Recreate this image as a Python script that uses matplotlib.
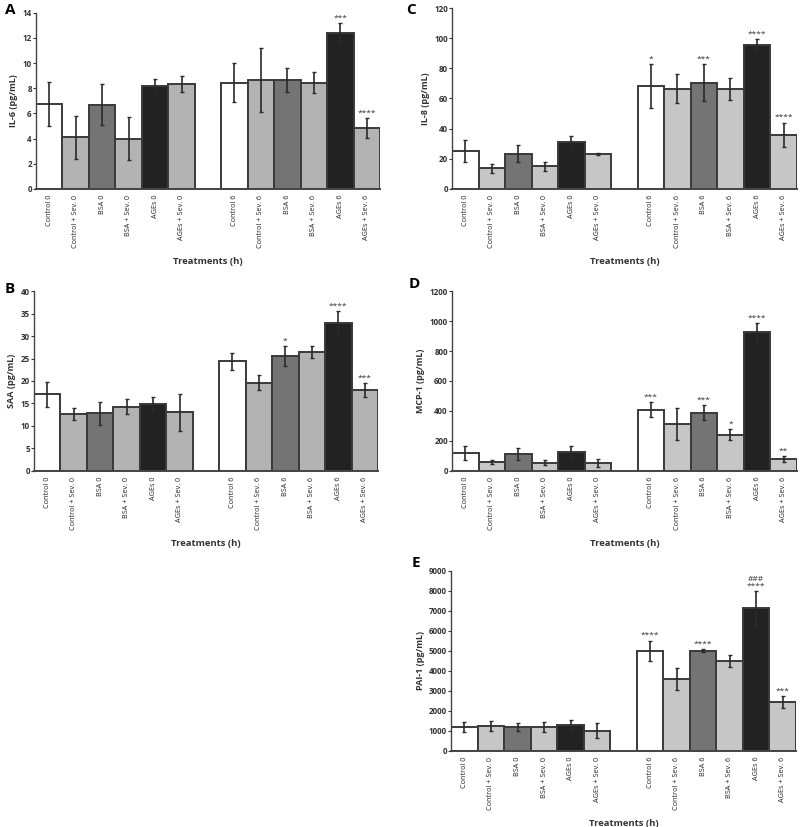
import matplotlib
matplotlib.use("Agg")
import matplotlib.pyplot as plt
import numpy as np

plt.rcParams['font.family'] = ['Open Sans', 'DejaVu Sans']

categories = ["Control 0", "Control + Sev. 0", "BSA 0", "BSA + Sev. 0", "AGEs 0", "AGEs + Sev. 0",
              "Control 6", "Control + Sev. 6", "BSA 6", "BSA + Sev. 6", "AGEs 6", "AGEs + Sev. 6"]

il6 = [6.75, 4.1, 6.7, 4.0, 8.2, 8.35, 8.45, 8.65, 8.65, 8.45, 12.4, 4.85]
il6_err = [1.75, 1.7, 1.6, 1.7, 0.5, 0.65, 1.55, 2.55, 0.95, 0.85, 0.8, 0.8]
il6_sig = ["", "", "", "", "", "", "", "", "", "", "***", "****"]

il8 = [25.2, 13.7, 23.5, 15.0, 31.2, 23.0, 68.4, 66.6, 70.6, 66.2, 95.2, 36.0]
il8_err = [7.0, 3.0, 5.4, 2.8, 3.8, 0.6, 14.5, 9.5, 12.0, 7.5, 4.0, 8.0]
il8_sig = ["", "", "", "", "", "", "*", "", "***", "", "****", "****"]

saa = [17.0, 12.7, 12.8, 14.3, 14.9, 13.0, 24.4, 19.6, 25.6, 26.4, 33.0, 18.0]
saa_err = [2.75, 1.4, 2.6, 1.7, 1.6, 4.2, 1.85, 1.7, 2.2, 1.3, 2.45, 1.55]
saa_sig = ["", "", "", "", "", "", "", "", "*", "", "****", "***"]

mcp1 = [120, 58, 113, 56, 129, 53, 409, 312, 389, 243, 928, 80]
mcp1_err = [48, 14, 40, 17, 35, 29, 48, 105, 48, 37, 57, 20]
mcp1_sig = ["", "", "", "", "", "", "***", "", "***", "*", "****", "**"]

pai1 = [1200, 1250, 1200, 1200, 1280, 1020, 5017, 3600, 5017, 4500, 7130, 2450]
pai1_err = [250, 240, 200, 250, 250, 380, 500, 560, 90, 320, 860, 280]
pai1_sig = ["", "", "", "", "", "", "****", "", "****", "", "###\n****", "***"]

light_ab = "#b3b3b3"
light_cde = "#c6c6c6"
dark = "#747474"
black = "#222222"
edge = "#3a3a3a"

fig = plt.figure(figsize=(8, 8.27), dpi=100)
W, H = 800.0, 827.0

panels = [
    ("A", (10, 10), [0.045, 0.7715, 0.430, 0.2131], il6, il6_err, il6_sig, "IL-6 (pg/mL)", 14, 2, light_ab),
    ("C", (411, 10), [0.565, 0.7715, 0.431, 0.2188], il8, il8_err, il8_sig, "IL-8 (pg/mL)", 120, 20, light_cde),
    ("B", (10, 289), [0.0425, 0.4305, 0.430, 0.2176], saa, saa_err, saa_sig, "SAA (pg/mL)", 40, 5, light_ab),
    ("D", (414, 284), [0.565, 0.4305, 0.431, 0.2176], mcp1, mcp1_err, mcp1_sig, "MCP-1 (pg/mL)", 1200, 200, light_cde),
    ("E", (416, 563), [0.564, 0.0919, 0.431, 0.2177], pai1, pai1_err, pai1_sig, "PAI-1 (pg/mL)", 9000, 1000, light_cde),
]

positions = np.array([0, 1, 2, 3, 4, 5, 7, 8, 9, 10, 11, 12], dtype=float)

for letter, lpos, rect, vals, errs, sigs, ylabel, ymax, step, light in panels:
    ax = fig.add_axes(rect)
    colors = ["white", light, dark, light, black, light] * 2
    ax.bar(positions, vals, width=1.0, color=colors, edgecolor=edge, linewidth=1.4, zorder=2)
    ax.errorbar(positions, vals, yerr=errs, fmt="none", ecolor="#2a2a2a", elinewidth=1.2,
                capsize=1.5, capthick=1.0, zorder=3)
    for x, v, e, s in zip(positions, vals, errs, sigs):
        if s:
            ax.text(x, v + e + ymax * 0.008, s, ha="center", va="bottom", fontsize=6,
                    color="#333333", linespacing=0.9)
    ax.set_xlim(-0.5, 12.5)
    ax.set_ylim(0, ymax)
    ax.set_yticks(np.arange(0, ymax + step / 2, step))
    ax.tick_params(axis="y", labelsize=5.8, length=2, width=0.8, pad=1, colors="#333333")
    for lab in ax.get_yticklabels():
        lab.set_fontweight("bold")
    ax.set_xticks(positions)
    ax.set_xticklabels(categories, rotation=90, fontsize=5.2, color="#222222")
    ax.tick_params(axis="x", length=0, pad=4)
    ax.spines["top"].set_visible(False)
    ax.spines["right"].set_visible(False)
    ax.spines["left"].set_color("#444444")
    ax.spines["bottom"].set_color("#444444")
    ax.spines["bottom"].set_linewidth(1.4)
    ax.spines["left"].set_linewidth(1.0)
    ax.set_ylabel(ylabel, fontsize=6.5, fontweight="bold", color="#333333", labelpad=3)
    ax.set_xlabel("Treatments (h)", fontsize=6.8, fontweight="bold", color="#333333", labelpad=7)
    fig.text(lpos[0] / W, 1 - lpos[1] / H, letter, fontsize=11, fontweight="bold",
             ha="center", va="center", color="black")

fig.savefig("out.png", dpi=100)
